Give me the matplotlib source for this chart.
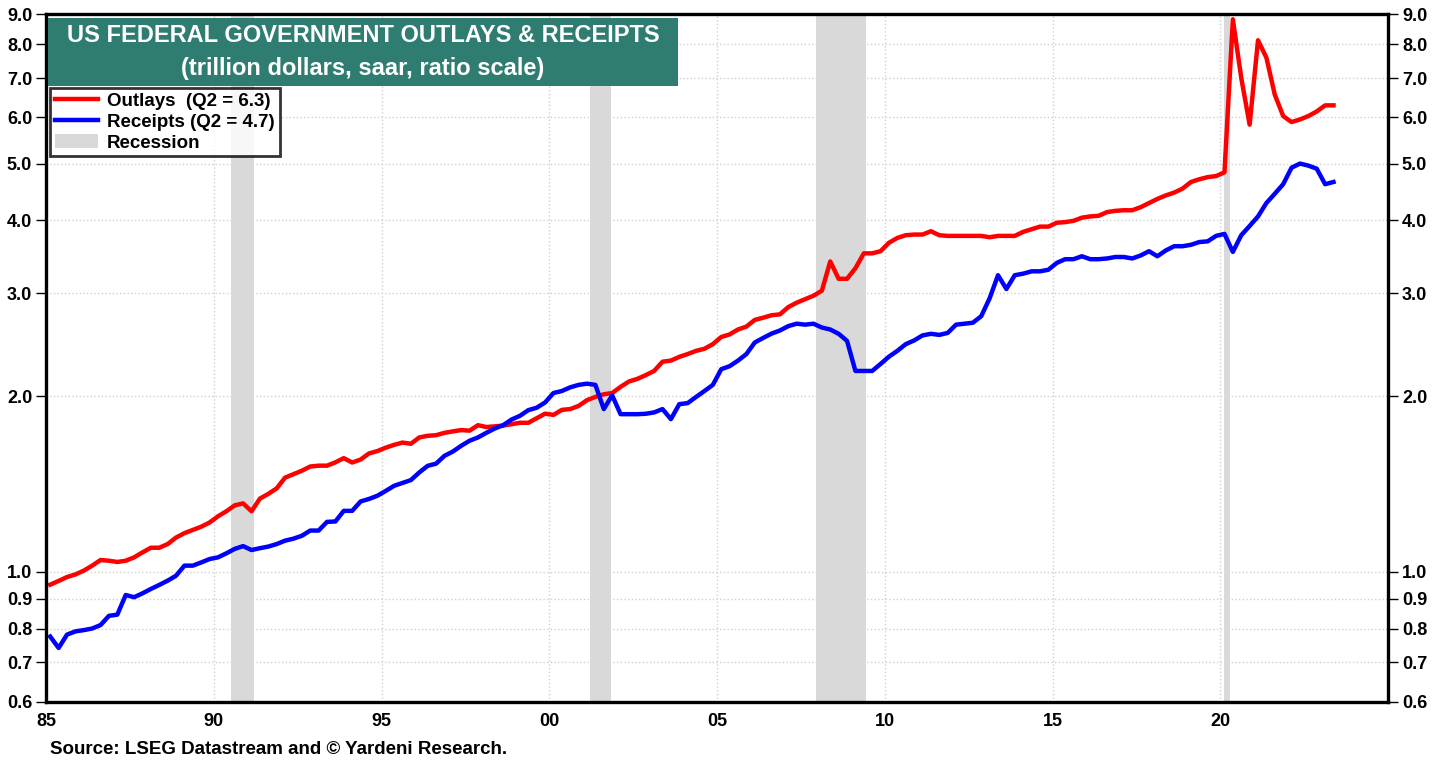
import numpy as np
import matplotlib
matplotlib.use("Agg")
import matplotlib.pyplot as plt
from matplotlib.patches import Rectangle, Patch
from matplotlib.lines import Line2D
from matplotlib.ticker import FixedLocator, NullLocator

plt.rcParams['font.family'] = ['Liberation Sans', 'DejaVu Sans']

# quarterly data, 1985Q1 .. 2023Q2 (trillion dollars, saar)
outlays = [
    0.951, 0.965, 0.980, 0.990,   # 1985
    1.005, 1.025, 1.048, 1.045,   # 1986
    1.040, 1.045, 1.059, 1.080,   # 1987
    1.100, 1.100, 1.116, 1.145,   # 1988
    1.165, 1.180, 1.195, 1.215,   # 1989
    1.245, 1.270, 1.300, 1.310,   # 1990
    1.270, 1.335, 1.360, 1.390,   # 1991
    1.450, 1.470, 1.490, 1.515,   # 1992
    1.520, 1.520, 1.540, 1.566,   # 1993
    1.539, 1.557, 1.595, 1.610,   # 1994
    1.632, 1.650, 1.665, 1.657,   # 1995
    1.699, 1.710, 1.714, 1.730,   # 1996
    1.740, 1.749, 1.745, 1.783,   # 1997
    1.770, 1.775, 1.780, 1.790,   # 1998
    1.800, 1.800, 1.833, 1.866,   # 1999
    1.857, 1.894, 1.900, 1.924,   # 2000
    1.968, 1.993, 2.014, 2.024,   # 2001
    2.074, 2.118, 2.140, 2.172,   # 2002
    2.208, 2.290, 2.300, 2.334,   # 2003
    2.360, 2.390, 2.410, 2.454,   # 2004
    2.524, 2.550, 2.600, 2.630,   # 2005
    2.700, 2.724, 2.750, 2.760,   # 2006
    2.840, 2.890, 2.930, 2.970,   # 2007
    3.030, 3.400, 3.175, 3.175,   # 2008
    3.310, 3.510, 3.510, 3.540,   # 2009
    3.660, 3.730, 3.770, 3.780,   # 2010
    3.780, 3.830, 3.770, 3.760,   # 2011
    3.760, 3.760, 3.760, 3.760,   # 2012
    3.740, 3.760, 3.760, 3.760,   # 2013
    3.820, 3.860, 3.900, 3.900,   # 2014
    3.960, 3.970, 3.990, 4.040,   # 2015
    4.060, 4.070, 4.130, 4.150,   # 2016
    4.160, 4.160, 4.210, 4.280,   # 2017
    4.350, 4.410, 4.460, 4.530,   # 2018
    4.650, 4.700, 4.740, 4.760,   # 2019
    4.830, 8.830, 7.010, 5.830,   # 2020
    8.130, 7.590, 6.560, 6.030,   # 2021
    5.890, 5.950, 6.030, 6.140,   # 2022
    6.290, 6.290,                 # 2023
]

receipts = [
    0.775, 0.741, 0.781, 0.791,   # 1985
    0.795, 0.800, 0.811, 0.841,   # 1986
    0.845, 0.913, 0.905, 0.919,   # 1987
    0.935, 0.950, 0.966, 0.985,   # 1988
    1.025, 1.025, 1.038, 1.052,   # 1989
    1.059, 1.076, 1.095, 1.107,   # 1990
    1.090, 1.098, 1.105, 1.116,   # 1991
    1.131, 1.140, 1.153, 1.177,   # 1992
    1.177, 1.218, 1.220, 1.272,   # 1993
    1.272, 1.320, 1.333, 1.350,   # 1994
    1.376, 1.404, 1.420, 1.436,   # 1995
    1.480, 1.519, 1.532, 1.580,   # 1996
    1.607, 1.644, 1.677, 1.699,   # 1997
    1.730, 1.760, 1.783, 1.823,   # 1998
    1.850, 1.892, 1.910, 1.950,   # 1999
    2.024, 2.040, 2.070, 2.090,   # 2000
    2.100, 2.090, 1.900, 2.006,   # 2001
    1.862, 1.862, 1.862, 1.865,   # 2002
    1.875, 1.900, 1.826, 1.937,   # 2003
    1.945, 1.993, 2.040, 2.090,   # 2004
    2.223, 2.250, 2.300, 2.360,   # 2005
    2.470, 2.515, 2.558, 2.590,   # 2006
    2.635, 2.660, 2.650, 2.660,   # 2007
    2.620, 2.600, 2.556, 2.486,   # 2008
    2.208, 2.208, 2.208, 2.270,   # 2009
    2.336, 2.390, 2.454, 2.490,   # 2010
    2.540, 2.556, 2.545, 2.565,   # 2011
    2.650, 2.660, 2.670, 2.740,   # 2012
    2.940, 3.220, 3.050, 3.220,   # 2013
    3.240, 3.270, 3.270, 3.290,   # 2014
    3.380, 3.430, 3.430, 3.470,   # 2015
    3.430, 3.430, 3.440, 3.460,   # 2016
    3.460, 3.440, 3.480, 3.540,   # 2017
    3.470, 3.550, 3.610, 3.610,   # 2018
    3.630, 3.670, 3.680, 3.760,   # 2019
    3.790, 3.530, 3.770, 3.910,   # 2020
    4.060, 4.280, 4.440, 4.610,   # 2021
    4.920, 5.000, 4.960, 4.900,   # 2022
    4.610, 4.650,                 # 2023
]

# recession periods (start, end) in decimal years
recessions = [(1990.5, 1991.2), (2001.2, 2001.85), (2007.95, 2009.45), (2020.1, 2020.3)]

y_ticks = [0.6, 0.7, 0.8, 0.9, 1.0, 2.0, 3.0, 4.0, 5.0, 6.0, 7.0, 8.0, 9.0]
x_ticks = [1985, 1990, 1995, 2000, 2005, 2010, 2015, 2020]
x_labels = ["85", "90", "95", "00", "05", "10", "15", "20"]

# quarter mid-points
t = 1985.125 + 0.25 * np.arange(len(outlays))

fig = plt.figure(figsize=(14.43, 7.65), dpi=100)
ax = fig.add_axes([0.0319, 0.0830, 0.9300, 0.8981])

for a, b in recessions:
    ax.axvspan(a, b, color='#d9d9d9', lw=0, zorder=1)

ax.plot(t, outlays, color='#ff0000', lw=3.2, zorder=3)
ax.plot(t, receipts, color='#0000ff', lw=3.2, zorder=3)

ax.set_yscale('log')
ax.set_ylim(0.6, 9.0)
ax.set_xlim(1985, 2025)

ax.yaxis.set_major_locator(FixedLocator(y_ticks))
ax.yaxis.set_minor_locator(NullLocator())
ax.set_yticks(y_ticks)
ax.set_yticklabels(["%.1f" % v for v in y_ticks])
ax.set_xticks(x_ticks)
ax.set_xticklabels(x_labels)

ax.grid(True, which='major', color='#d0d0d0', ls=':', lw=1, zorder=0)
ax.set_axisbelow(True)

for s in ax.spines.values():
    s.set_linewidth(2.4)
    s.set_color('black')
    s.set_zorder(5)

ax.tick_params(axis='y', which='both', left=True, right=True, labelleft=True, labelright=True,
               direction='out', length=7, width=1, pad=3, labelsize=13)
ax.tick_params(axis='x', direction='out', length=0, pad=8, labelsize=13)
for lab in ax.get_xticklabels() + ax.get_yticklabels():
    lab.set_fontweight('bold')

# title box
fig.patches.append(Rectangle((48 / 1443, 1 - 86 / 765), 630 / 1443, 68 / 765,
                             transform=fig.transFigure, facecolor='#2f7d70', edgecolor='none', zorder=6))
fig.text(363 / 1443, 1 - 36 / 765, "US FEDERAL GOVERNMENT OUTLAYS & RECEIPTS", color='white',
         fontsize=17, fontweight='bold', ha='center', va='center', zorder=7)
fig.text(363 / 1443, 1 - 69 / 765, "(trillion dollars, saar, ratio scale)", color='white',
         fontsize=17, fontweight='bold', ha='center', va='center', zorder=7)

handles = [Line2D([], [], color='#ff0000', lw=3.2),
           Line2D([], [], color='#0000ff', lw=3.2),
           Patch(facecolor='#d9d9d9', edgecolor='none')]
labels = ["Outlays  (Q2 = 6.3)", "Receipts (Q2 = 4.7)", "Recession"]
leg = ax.legend(handles, labels, loc='upper left', bbox_to_anchor=(50 / 1443, 1 - 88 / 765),
                bbox_transform=fig.transFigure, frameon=True, fancybox=False,
                prop={'weight': 'bold', 'size': 13.5}, handlelength=2.3, handletextpad=0.5,
                labelspacing=0.2, borderpad=0.25, borderaxespad=0)
leg.get_frame().set_edgecolor('black')
leg.get_frame().set_linewidth(2)
leg.set_zorder(8)

fig.text(50 / 1443, 1 - 750 / 765, "Source: LSEG Datastream and \u00a9 Yardeni Research.",
         fontsize=13.5, fontweight='bold', ha='left', va='center')

fig.savefig("out.png", dpi=100)
